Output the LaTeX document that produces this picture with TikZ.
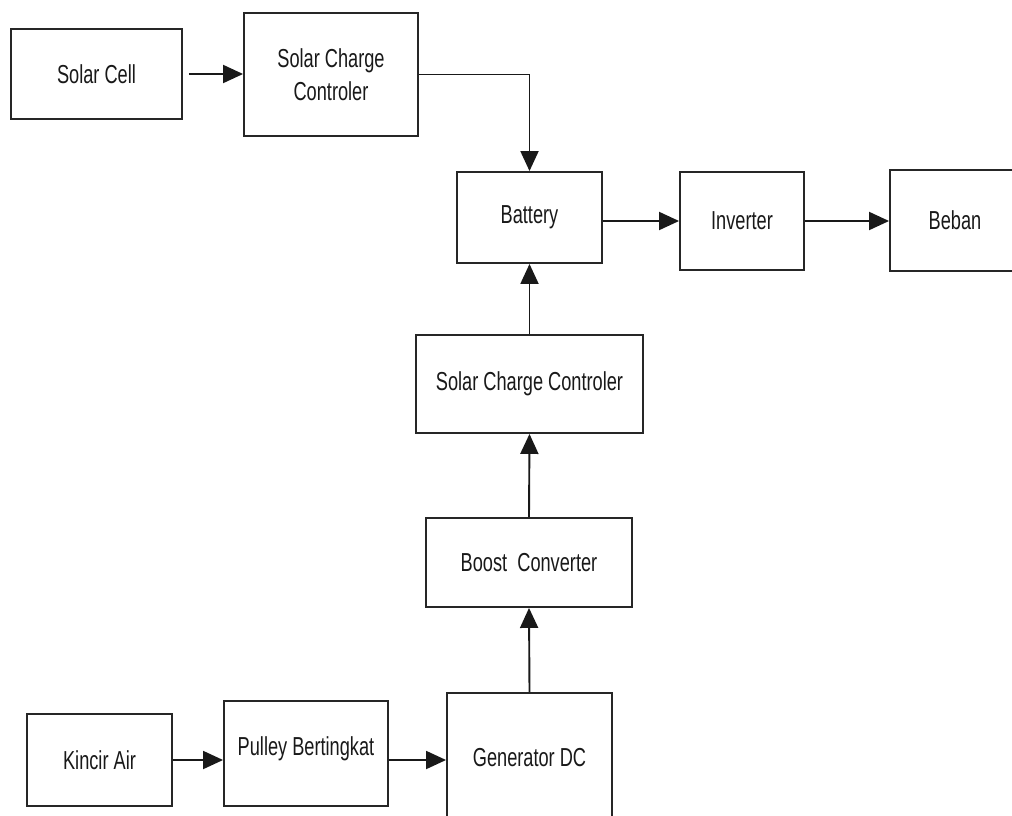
\documentclass[tikz,border=0pt]{standalone}
\usepackage{fontspec}
\setmainfont[FakeStretch=0.7]{Liberation Sans}
\usetikzlibrary{arrows.meta}
\begin{document}
\begin{tikzpicture}[x=1pt,y=-1pt,
  blockbox/.style={draw=black!85, line width=1.9pt, fill=white, inner sep=0pt,
    align=center, font=\fontsize{26}{33}\selectfont, text=black!90},
  flow/.style={draw=black!90, line width=1.9pt, -{Triangle[length=20pt,width=18pt]}}]
\useasboundingbox (0,0) rectangle (1012,816);
\fill[white] (0,0) rectangle (1012,816);

% upper branch: solar path
\node[blockbox, minimum width=171pt, minimum height=90pt] (cell) at (96.5,74) {Solar Cell};
\node[blockbox, minimum width=174pt, minimum height=123pt] (scc1) at (331,74.5) {Solar Charge\\Controler};
\node[blockbox, minimum width=145pt, minimum height=91pt] (bat) at (529.5,217.5) {Battery};
\node[blockbox, minimum width=124pt, minimum height=98pt] (inv) at (742,221) {Inverter};
\node[blockbox, minimum width=130pt, minimum height=101pt] (beban) at (955,220.5) {Beban};

% middle column
\node[blockbox, minimum width=227pt, minimum height=98pt] (scc2) at (529.5,384) {Solar Charge Controler};
\node[blockbox, minimum width=206pt, minimum height=89pt] (boost) at (529,562.5) {Boost~~Converter};

% lower branch: water wheel path
\node[blockbox, minimum width=145pt, minimum height=92pt] (kincir) at (99.5,760) {Kincir Air};
\node[blockbox, minimum width=164pt, minimum height=105pt, text depth=14pt] (pulley) at (306,753.5) {Pulley Bertingkat};
\node[blockbox, minimum width=165pt, minimum height=130pt] (gen) at (529.5,758) {Generator DC};

% connectors
\draw[flow, shorten <=6pt] (cell.east) -- (cell.east -| scc1.west);
\draw[flow] (scc1.east) -| (bat.north);
\draw[flow] (bat.east |- inv.west) -- (inv.west);
\draw[flow] (inv.east) -- (inv.east -| beban.west);
\draw[flow] (scc2.north) -- (bat.south);
\draw[flow] (boost.north) -- (scc2.south);
\draw[flow] (gen.north) -- (boost.south);
\draw[flow] (kincir.east) -- (kincir.east -| pulley.west);
\draw[flow] (pulley.east |- kincir.east) -- (gen.west |- kincir.east);
\end{tikzpicture}
\end{document}
